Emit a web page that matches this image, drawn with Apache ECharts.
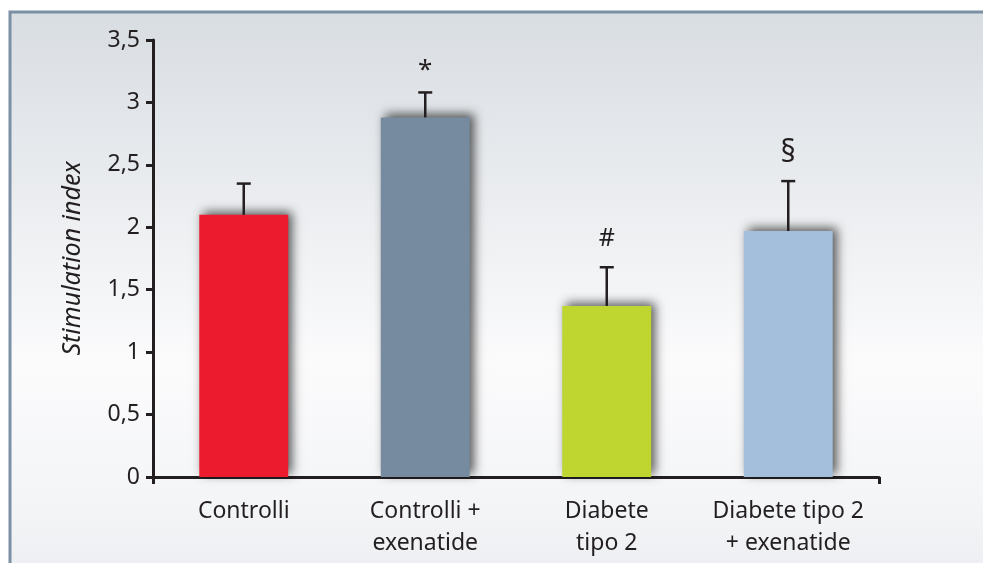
<!DOCTYPE html>
<html>
<head>
<meta charset="utf-8">
<script src="https://cdn.jsdelivr.net/npm/echarts@6/dist/echarts.min.js"></script>
<style>
  html, body { margin: 0; padding: 0; background: #fff; }
  #chart { width: 983px; height: 563px; }
</style>
</head>
<body>
<div id="chart"></div>
<script>
// groups on the x axis
const categories = ['Controlli', 'Controlli +\nexenatide', 'Diabete\ntipo 2', 'Diabete tipo 2\n+ exenatide'];
// mean stimulation index
const means = [2.1, 2.88, 1.37, 1.97];
// upper end of the error bar
const errTop = [2.35, 3.08, 1.68, 2.37];
// significance marks
const marks = ['', '*', '#', '§'];
const barColors = ['#ed1b2e', '#768ba0', '#bed62f', '#a3bfdb'];
const yTicks = [0, 0.5, 1, 1.5, 2, 2.5, 3, 3.5];

const ink = '#231f20';
const font = '"Noto Sans"';
const markSize = [22, 26, 25, 30];

const chart = echarts.init(document.getElementById('chart'));

chart.setOption({
  animation: false,
  textStyle: { fontFamily: font },
  graphic: [{
    type: 'rect',
    z: -10,
    silent: true,
    shape: { x: 10, y: 12, width: 1100, height: 700 },
    style: {
      fill: new echarts.graphic.LinearGradient(0, 0, 0, 1, [
        { offset: 0, color: '#d8dde2' },
        { offset: 0.5, color: '#fbfbfc' },
        { offset: 0.7, color: '#f4f5f7' },
        { offset: 1, color: '#dde2e7' }
      ]),
      stroke: '#7b90a4',
      lineWidth: 3
    }
  }],
  grid: { left: 153, right: 104, top: 40, bottom: 86 },
  xAxis: {
    type: 'category',
    data: categories,
    axisLine: { lineStyle: { color: ink, width: 3 } },
    axisTick: {
      show: true,
      interval: (i) => i === 0,
      length: 7,
      lineStyle: { color: ink, width: 3 }
    },
    axisLabel: {
      color: ink,
      fontFamily: font,
      fontSize: 23,
      lineHeight: 32,
      margin: 18,
      interval: 0
    }
  },
  yAxis: {
    type: 'value',
    min: yTicks[0],
    max: yTicks[yTicks.length - 1],
    interval: 0.5,
    name: 'Stimulation index',
    nameLocation: 'middle',
    nameGap: 68,
    nameRotate: 90,
    nameTextStyle: { color: ink, fontFamily: font, fontSize: 25, fontStyle: 'italic' },
    axisLine: { show: true, lineStyle: { color: ink, width: 3 } },
    axisTick: { show: true, length: 7, lineStyle: { color: ink, width: 3 } },
    axisLabel: {
      color: ink,
      fontFamily: font,
      fontSize: 23,
      margin: 13,
      formatter: (v) => String(v).replace('.', ',')
    },
    splitLine: { show: false }
  },
  series: [
    {
      type: 'bar',
      barWidth: '49%',
      data: means.map((v, i) => ({
        value: v,
        itemStyle: {
          color: barColors[i],
          shadowColor: 'rgba(0,0,0,0.65)',
          shadowBlur: 10,
          shadowOffsetX: 4,
          shadowOffsetY: -3
        }
      })),
      z: 2
    },
    {
      type: 'custom',
      z: 3,
      data: means.map((v, i) => [i, v, errTop[i]]),
      renderItem: (params, api) => {
        const x = api.coord([api.value(0), api.value(1)])[0];
        const yLow = api.coord([api.value(0), api.value(1)])[1];
        const yHigh = api.coord([api.value(0), api.value(2)])[1];
        const s = { stroke: ink, lineWidth: 2.5 };
        const idx = params.dataIndex;
        return {
          type: 'group',
          children: [
            { type: 'line', shape: { x1: x, y1: yLow, x2: x, y2: yHigh }, style: s },
            { type: 'line', shape: { x1: x - 7, y1: yHigh, x2: x + 7, y2: yHigh }, style: s },
            {
              type: 'text',
              style: {
                x: x,
                y: yHigh - (idx === 1 ? 22 : 28),
                text: marks[idx],
                fill: ink,
                font: markSize[idx] + 'px ' + font,
                align: 'center',
                verticalAlign: 'middle'
              }
            }
          ]
        };
      }
    }
  ]
});
</script>
</body>
</html>
